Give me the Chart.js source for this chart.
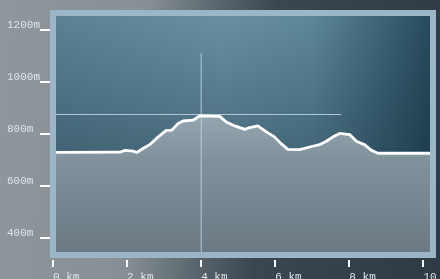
<!DOCTYPE html>
<html>
<head>
<meta charset="utf-8">
<script src="https://cdn.jsdelivr.net/npm/chart.js@4"></script>
<style>
    html, body {
        margin: 0;
        padding: 0;
        width: 440px;
        height: 279px;
        overflow: hidden;
    }
    body {
        background: linear-gradient(95deg, #8f979c 0%, #868f95 32%, #5a656d 47%, #3a4650 60%, #2e3a44 100%);
    }
    canvas {
        display: block;
    }
</style>
</head>
<body>
<canvas id="profileChart" width="440" height="279"></canvas>
<script>
// Profile data (km / m)
const distances = [0, 1.81, 1.94, 2.16, 2.26, 2.43, 2.61, 2.84, 3.06, 3.20, 3.38, 3.51, 3.78, 3.96, 4.50, 4.68, 4.91, 5.18, 5.31, 5.53, 5.76, 5.98, 6.16, 6.34, 6.66, 6.93, 7.20, 7.38, 7.56, 7.74, 8.01, 8.19, 8.41, 8.59, 8.77, 10.4];
const elevations = [728, 729, 736, 733, 728, 743, 758, 788, 813, 813, 839, 849, 852, 869, 867, 845, 830, 817, 824, 830, 807, 788, 762, 740, 739, 749, 758, 771, 788, 801, 797, 771, 758, 737, 725, 725];

// Tick values
const kmTicks = [0, 2, 4, 6, 8, 10];
const elevTicks = [400, 600, 800, 1000, 1200];

// Cursor (crosshair)
const cursorKm = 4;
const cursorTop = 1111;
const cursorElev = 874;
const cursorEndKm = 7.78;

const profilePoints = distances.map(function(d, i) {
    return {x: d, y: elevations[i]};
});

// Plot background + frame
const framePlugin = {
    id: 'frame',
    beforeDatasetsDraw: function(chart) {
        const ctx = chart.ctx;
        const a = chart.chartArea;
        ctx.save();
        let g = ctx.createLinearGradient(a.left, 0, a.right, 0);
        g.addColorStop(0, '#5b8395');
        g.addColorStop(0.45, '#6a91a3');
        g.addColorStop(0.68, '#5f889b');
        g.addColorStop(0.87, '#3c6375');
        g.addColorStop(1, '#25485a');
        ctx.fillStyle = g;
        ctx.fillRect(a.left, a.top, a.right - a.left, a.bottom - a.top);
        let v = ctx.createLinearGradient(0, a.top, 0, a.top + 150);
        v.addColorStop(0, 'rgba(10, 35, 50, 0)');
        v.addColorStop(1, 'rgba(10, 35, 50, 0.35)');
        ctx.fillStyle = v;
        ctx.fillRect(a.left, a.top, a.right - a.left, a.bottom - a.top);
        ctx.restore();
    },
    afterDatasetsDraw: function(chart) {
        const ctx = chart.ctx;
        const a = chart.chartArea;
        ctx.save();
        ctx.strokeStyle = '#9bb5c9';
        ctx.lineWidth = 6;
        ctx.strokeRect(a.left + 3, a.top + 3, a.right - a.left - 6, a.bottom - a.top - 6);
        ctx.restore();
    }
};

function fillGradient(context) {
    const chart = context.chart;
    const a = chart.chartArea;
    if (!a) return '#7f8f9a';
    const g = chart.ctx.createLinearGradient(0, a.top + 100, 0, a.bottom);
    g.addColorStop(0, '#97a8b2');
    g.addColorStop(0.35, '#81919b');
    g.addColorStop(1, '#6a7782');
    return g;
}

const ctx = document.getElementById('profileChart').getContext('2d');
const profileChart = new Chart(ctx, {
    type: 'line',
    data: {
        datasets: [{
            // fill under profile
            data: profilePoints,
            borderWidth: 0,
            pointRadius: 0,
            fill: 'start',
            backgroundColor: fillGradient,
            tension: 0,
            order: 3
        }, {
            // vertical cursor
            data: [{x: cursorKm, y: 300}, {x: cursorKm, y: cursorTop}],
            borderColor: 'rgba(185, 212, 228, 0.9)',
            borderWidth: 1,
            pointRadius: 0,
            fill: false,
            order: 2
        }, {
            // horizontal cursor
            data: [{x: -1, y: cursorElev}, {x: cursorEndKm, y: cursorElev}],
            borderColor: 'rgba(185, 212, 228, 0.9)',
            borderWidth: 1,
            pointRadius: 0,
            fill: false,
            order: 2
        }, {
            // profile line
            data: profilePoints,
            borderColor: '#ffffff',
            borderWidth: 2.8,
            pointRadius: 0,
            fill: false,
            tension: 0,
            borderJoinStyle: 'round',
            order: 1
        }]
    },
    options: {
        responsive: false,
        devicePixelRatio: 1,
        animation: false,
        layout: {
            padding: {left: 7, top: 10, right: 4, bottom: 0}
        },
        plugins: {
            legend: {display: false},
            tooltip: {enabled: false}
        },
        scales: {
            x: {
                type: 'linear',
                min: -0.081,
                max: 10.34,
                afterBuildTicks: function(scale) {
                    scale.ticks = kmTicks.map(function(v) { return {value: v}; });
                },
                afterFit: function(scale) {
                    scale.height = 21;
                    scale.paddingLeft = 0;
                    scale.paddingRight = 0;
                },
                border: {display: false},
                grid: {
                    drawOnChartArea: false,
                    color: '#ffffff',
                    lineWidth: 2,
                    tickLength: 9,
                    tickBorderDash: [0, 2, 7, 40]
                },
                ticks: {
                    autoSkip: false,
                    maxRotation: 0,
                    align: 'start',
                    padding: 3,
                    color: '#dfe4e7',
                    font: {family: '"Liberation Mono", monospace', size: 11},
                    callback: function(value) {
                        return value + ' km';
                    }
                }
            },
            y: {
                type: 'linear',
                min: 322,
                max: 1276,
                afterBuildTicks: function(scale) {
                    scale.ticks = elevTicks.map(function(v) { return {value: v}; });
                },
                afterFit: function(scale) {
                    scale.width = 43;
                    scale.paddingTop = 0;
                    scale.paddingBottom = 0;
                },
                border: {display: false},
                grid: {
                    drawOnChartArea: false,
                    color: '#ffffff',
                    lineWidth: 2,
                    tickLength: 10
                },
                ticks: {
                    crossAlign: 'far',
                    padding: 2,
                    color: '#dfe4e7',
                    font: {family: '"Liberation Mono", monospace', size: 11, lineHeight: '9px'},
                    callback: function(value) {
                        return [value + 'm', ''];
                    }
                }
            }
        }
    },
    plugins: [framePlugin]
});
</script>
</body>
</html>
